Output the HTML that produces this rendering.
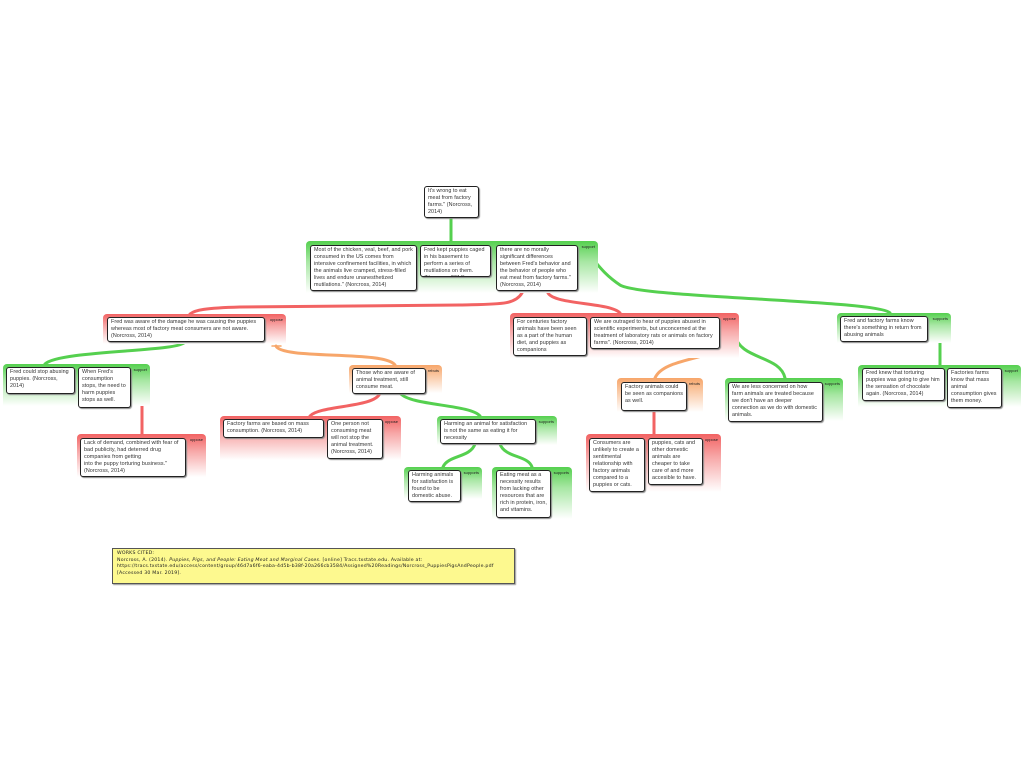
<!DOCTYPE html>
<html><head><meta charset="utf-8">
<style>
body{margin:0;width:1024px;height:768px;background:#fff;position:relative;overflow:hidden;font-family:"Liberation Sans",sans-serif}
.g{position:absolute;border-radius:4px 4px 0 0}
.gg{background:linear-gradient(#55d04f 0%,#a8e7a4 40%,#fff 100%)}
.gr{background:linear-gradient(#f26363 0%,#f7a8a8 40%,#fff 100%)}
.go{background:linear-gradient(#f7a66a 0%,#facaa6 40%,#fff 100%)}
.l{position:absolute;top:3px;right:3px;font-size:4px;color:#222}
.b{position:absolute;background:#fff;border:1.3px solid #222;border-radius:3px;box-shadow:1px 1px 1px #888;font-size:5.4px;letter-spacing:0.05px;line-height:7px;color:#333;padding:1px 3px;box-sizing:border-box;overflow:hidden}
svg{position:absolute;left:0;top:0}
.note{position:absolute;left:112px;top:548px;width:403px;height:36px;background:#fdf98f;border:1px solid #555;box-sizing:border-box;font-family:"DejaVu Sans",sans-serif;font-size:4.7px;letter-spacing:0.2px;line-height:6.6px;padding:2px 4px;color:#222;box-shadow:1px 1px 1px #999;white-space:nowrap}
</style></head><body>
<svg width="1024" height="768" fill="none" stroke-linecap="round">
<g stroke="#55d04f" stroke-width="3">
<path d="M451 218 L451 242"/>
<path d="M185 342 C180 352 60 350 45 364"/>
<path d="M890 313 C880 300 640 298 620 285 C605 275 598 265 592 258"/>
<path d="M400 393 C410 406 470 404 480 416"/>
<path d="M475 444 C470 458 448 455 443 467"/>
<path d="M500 444 C505 458 528 455 532 467"/>
<path d="M735 335 C740 360 780 355 785 378"/>
<path d="M940 334 L940 365"/>
</g>
<g stroke="#f26363" stroke-width="3">
<path d="M522 293 C515 305 500 304 460 305 L240 307 C205 308 195 310 190 314"/>
<path d="M548 293 C555 305 610 302 620 313"/>
<path d="M142 388 L142 434"/>
<path d="M380 393 C375 408 320 405 310 416"/>
<path d="M654 412 L654 434"/>
</g>
<g stroke="#f7a66a" stroke-width="3">
<path d="M276 346 C282 360 385 350 395 365"/>
<path d="M732 335 C725 362 665 355 655 378"/>
</g>
<g stroke-width="1.5">
<path d="M586 252 L596 252" stroke="#55d04f"/>
<path d="M272 346 L281 346" stroke="#f7a66a"/>
<path d="M138 387 L147 387" stroke="#f26363"/>
<path d="M728 334 L738 334" stroke="#55d04f"/>
<path d="M936 334 L945 334" stroke="#55d04f"/>
<path d="M650 411 L659 411" stroke="#f26363"/>
</g>
</svg>

<div class="b" style="left:424px;top:186px;width:55px;height:32px">It's wrong to eat meat from factory farms." (Norcross, 2014)</div>

<div class="g gg" style="left:306px;top:241px;width:292px;height:52px"><span class="l">support</span></div>
<div class="b" style="left:310px;top:245px;width:107px;height:46px">Most of the chicken, veal, beef, and pork consumed in the US comes from intensive confinement facilities, in which the animals live cramped, stress-filled lives and endure unanesthetized mutilations." (Norcross, 2014)</div>
<div class="b" style="left:420px;top:245px;width:71px;height:32px">Fred kept puppies caged in his basement to perform a series of mutilations on them. (Norcross, 2014)</div>
<div class="b" style="left:496px;top:245px;width:82px;height:46px">there are no morally significant differences between Fred's behavior and the behavior of people who eat meat from factory farms." (Norcross, 2014)</div>

<div class="g gr" style="left:103px;top:314px;width:183px;height:30px"><span class="l">oppose</span></div>
<div class="b" style="left:107px;top:317px;width:158px;height:25px">Fred was aware of the damage he was causing the puppies whereas most of factory meat consumers are not aware. (Norcross, 2014)</div>

<div class="g gr" style="left:510px;top:313px;width:229px;height:45px"><span class="l">oppose</span></div>
<div class="b" style="left:513px;top:317px;width:74px;height:39px">For centuries factory animals have been seen as a part of the human diet, and puppies as companions</div>
<div class="b" style="left:590px;top:317px;width:130px;height:32px">We are outraged to hear of puppies abused in scientific experiments, but unconcerned at the treatment of laboratory rats or animals on factory farms". (Norcross, 2014)</div>

<div class="g gg" style="left:837px;top:313px;width:114px;height:30px"><span class="l">supports</span></div>
<div class="b" style="left:840px;top:316px;width:88px;height:26px">Fred and factory farms know there's something in return from abusing animals</div>

<div class="g gg" style="left:3px;top:364px;width:147px;height:42px"><span class="l">support</span></div>
<div class="b" style="left:6px;top:367px;width:69px;height:27px">Fred could stop abusing puppies. (Norcross, 2014)</div>
<div class="b" style="left:78px;top:367px;width:53px;height:41px">When Fred's consumption stops, the need to harm puppies stops as well.</div>

<div class="g go" style="left:349px;top:365px;width:93px;height:28px"><span class="l">rebuts</span></div>
<div class="b" style="left:352px;top:368px;width:74px;height:26px">Those who are aware of animal treatment, still consume meat.</div>

<div class="g gr" style="left:77px;top:434px;width:129px;height:43px"><span class="l">oppose</span></div>
<div class="b" style="left:80px;top:438px;width:106px;height:39px">Lack of demand, combined with fear of bad publicity, had deterred drug companies from getting<br>into the puppy torturing business." (Norcross, 2014)</div>

<div class="g gr" style="left:220px;top:416px;width:181px;height:44px"><span class="l">oppose</span></div>
<div class="b" style="left:223px;top:419px;width:101px;height:19px">Factory farms are based on mass consumption. (Norcross, 2014)</div>
<div class="b" style="left:327px;top:419px;width:56px;height:40px">One person not consuming meat will not stop the animal treatment. (Norcross, 2014)</div>

<div class="g gg" style="left:437px;top:416px;width:120px;height:29px"><span class="l">supports</span></div>
<div class="b" style="left:440px;top:419px;width:96px;height:25px">Harming an animal for satisfaction is not the same as eating it for necessity</div>

<div class="g go" style="left:617px;top:378px;width:86px;height:34px"><span class="l">rebuts</span></div>
<div class="b" style="left:621px;top:382px;width:66px;height:29px">Factory animals could be seen as companions as well.</div>

<div class="g gg" style="left:725px;top:378px;width:118px;height:43px"><span class="l">supports</span></div>
<div class="b" style="left:728px;top:382px;width:95px;height:40px">We are less concerned on how farm animals are treated because we don't have an deeper connection as we do with domestic animals.</div>

<div class="g gg" style="left:858px;top:365px;width:163px;height:42px"><span class="l">support</span></div>
<div class="b" style="left:862px;top:368px;width:83px;height:33px">Fred knew that torturing puppies was going to give him the sensation of chocolate again. (Norcross, 2014)</div>
<div class="b" style="left:947px;top:368px;width:55px;height:40px">Factories farms know that mass animal consumption gives them money.</div>

<div class="g gr" style="left:586px;top:434px;width:135px;height:58px"><span class="l">oppose</span></div>
<div class="b" style="left:589px;top:438px;width:56px;height:54px">Consumers are unlikely to create a sentimental relationship with factory animals compared to a puppies or cats.</div>
<div class="b" style="left:648px;top:438px;width:55px;height:47px">puppies, cats and other domestic animals are cheaper to take care of and more accesible to have.</div>

<div class="g gg" style="left:404px;top:467px;width:78px;height:32px"><span class="l">supports</span></div>
<div class="b" style="left:408px;top:470px;width:53px;height:32px">Harming animals for satisfaction is found to be domestic abuse.</div>

<div class="g gg" style="left:492px;top:467px;width:80px;height:52px"><span class="l">supports</span></div>
<div class="b" style="left:496px;top:470px;width:55px;height:48px">Eating meat as a necessity results from lacking other resources that are rich in protein, iron, and vitamins.</div>

<div class="note">WORKS CITED:<br>Norcross, A. (2014). <i>Puppies, Pigs, and People: Eating Meat and Marginal Cases</i>. [online] Tracs.txstate.edu. Available at:<br>https://tracs.txstate.edu/access/content/group/46d7a6f6-eaba-4d5b-b38f-20a266cb3584/Assigned%20Readings/Norcross_PuppiesPigsAndPeople.pdf<br>[Accessed 30 Mar. 2019].</div>
</body></html>
